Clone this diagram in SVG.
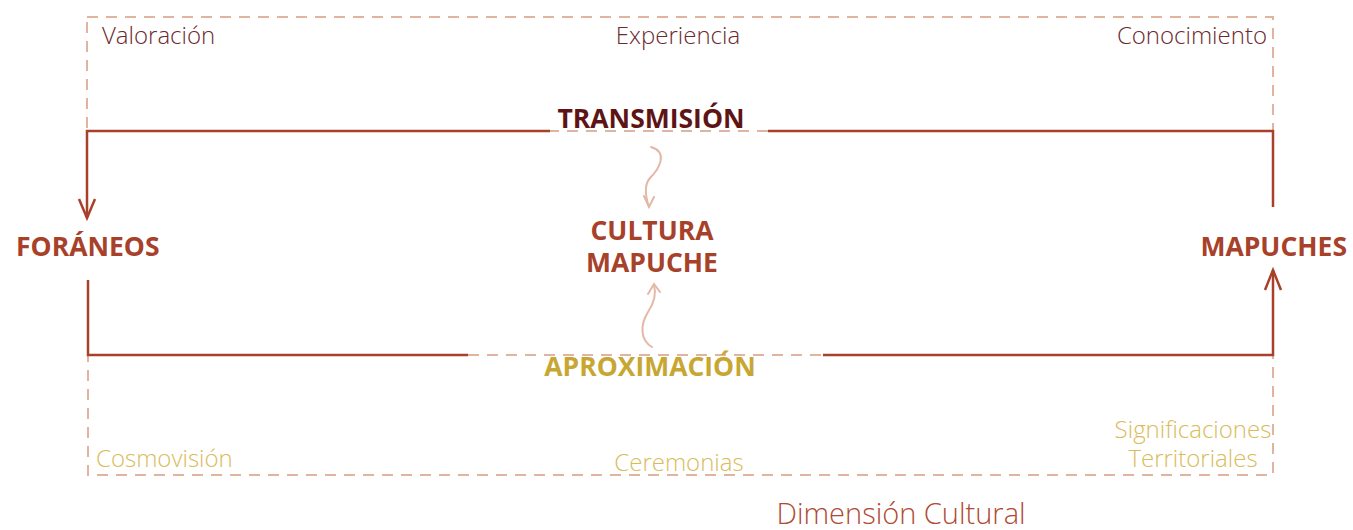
<svg xmlns="http://www.w3.org/2000/svg" width="1353" height="530" viewBox="0 0 1353 530">
<defs>
<style>
.lbl{font-family:"Open Sans","Liberation Sans",sans-serif;font-weight:300;font-size:24px}
.hd{font-family:"Open Sans","Liberation Sans",sans-serif;font-weight:700;font-size:26.5px}
.dash{fill:none;stroke:#e0b49e;stroke-width:2;stroke-dasharray:11 8}
.conn{fill:none;stroke:#a8412a;stroke-width:2.5}
.wave{fill:none;stroke:#e3b8a6;stroke-width:2;stroke-linecap:round}
</style>
</defs>
<rect width="1353" height="530" fill="#ffffff"/>
<g id="frame">
<rect class="dash" x="87" y="17" width="1186" height="114"/>
<rect class="dash" x="88" y="355" width="1185" height="120"/>
</g>
<g id="connectors">
<path class="conn" d="M550 131 H87 V218"/>
<path class="conn" d="M79 199 L87 218 L95 199"/>
<path class="conn" d="M768 131 H1273 V207"/>
<path class="conn" d="M88 280 V355 H468"/>
<path class="conn" d="M823 355 H1273 V270"/>
<path class="conn" d="M1265 290 L1273 270 L1281 290"/>
<path class="wave" d="M651 147 C668 152 660 168 650 178 C643 186 646 198 649 207"/>
<path class="wave" d="M644 196 L649 207 L654 197"/>
<path class="wave" d="M652 347 C640 340 640 325 648 312 C656 300 656 292 654 285"/>
<path class="wave" d="M648 294 L654 284 L660 292"/>
</g>
<g id="top-labels">
<text class="lbl" x="102" y="44" fill="#6b2a2f">Valoración</text>
<text class="lbl" x="678" y="44" fill="#6b2a2f" text-anchor="middle">Experiencia</text>
<text class="lbl" x="1267" y="44" fill="#6b2a2f" text-anchor="end">Conocimiento</text>
</g>
<g id="transmision">
<text class="hd" x="651" y="128" fill="#5e1414" text-anchor="middle">TRANSMISIÓN</text>
</g>
<g id="cultura">
<text class="hd" x="652" y="240" fill="#a8412a" text-anchor="middle">CULTURA</text>
<text class="hd" x="652" y="272" fill="#a8412a" text-anchor="middle">MAPUCHE</text>
</g>
<g id="foraneos">
<text class="hd" x="16" y="256" fill="#a8412a">FORÁNEOS</text>
</g>
<g id="mapuches">
<text class="hd" x="1347" y="256" fill="#a8412a" text-anchor="end">MAPUCHES</text>
</g>
<g id="aproximacion">
<text class="hd" x="650" y="376" fill="#c8a632" text-anchor="middle">APROXIMACIÓN</text>
</g>
<g id="bottom-labels">
<text class="lbl" x="96" y="467" fill="#d9bc5a">Cosmovisión</text>
<text class="lbl" x="679" y="471" fill="#d9bc5a" text-anchor="middle">Ceremonias</text>
<text class="lbl" x="1193" y="438" fill="#d9bc5a" text-anchor="middle">Significaciones</text>
<text class="lbl" x="1193" y="467" fill="#d9bc5a" text-anchor="middle">Territoriales</text>
</g>
<g id="title">
<text x="901" y="524" fill="#b04a33" text-anchor="middle" style="font-family:'Open Sans','Liberation Sans',sans-serif;font-weight:300;font-size:29px">Dimensión Cultural</text>
</g>
</svg>
